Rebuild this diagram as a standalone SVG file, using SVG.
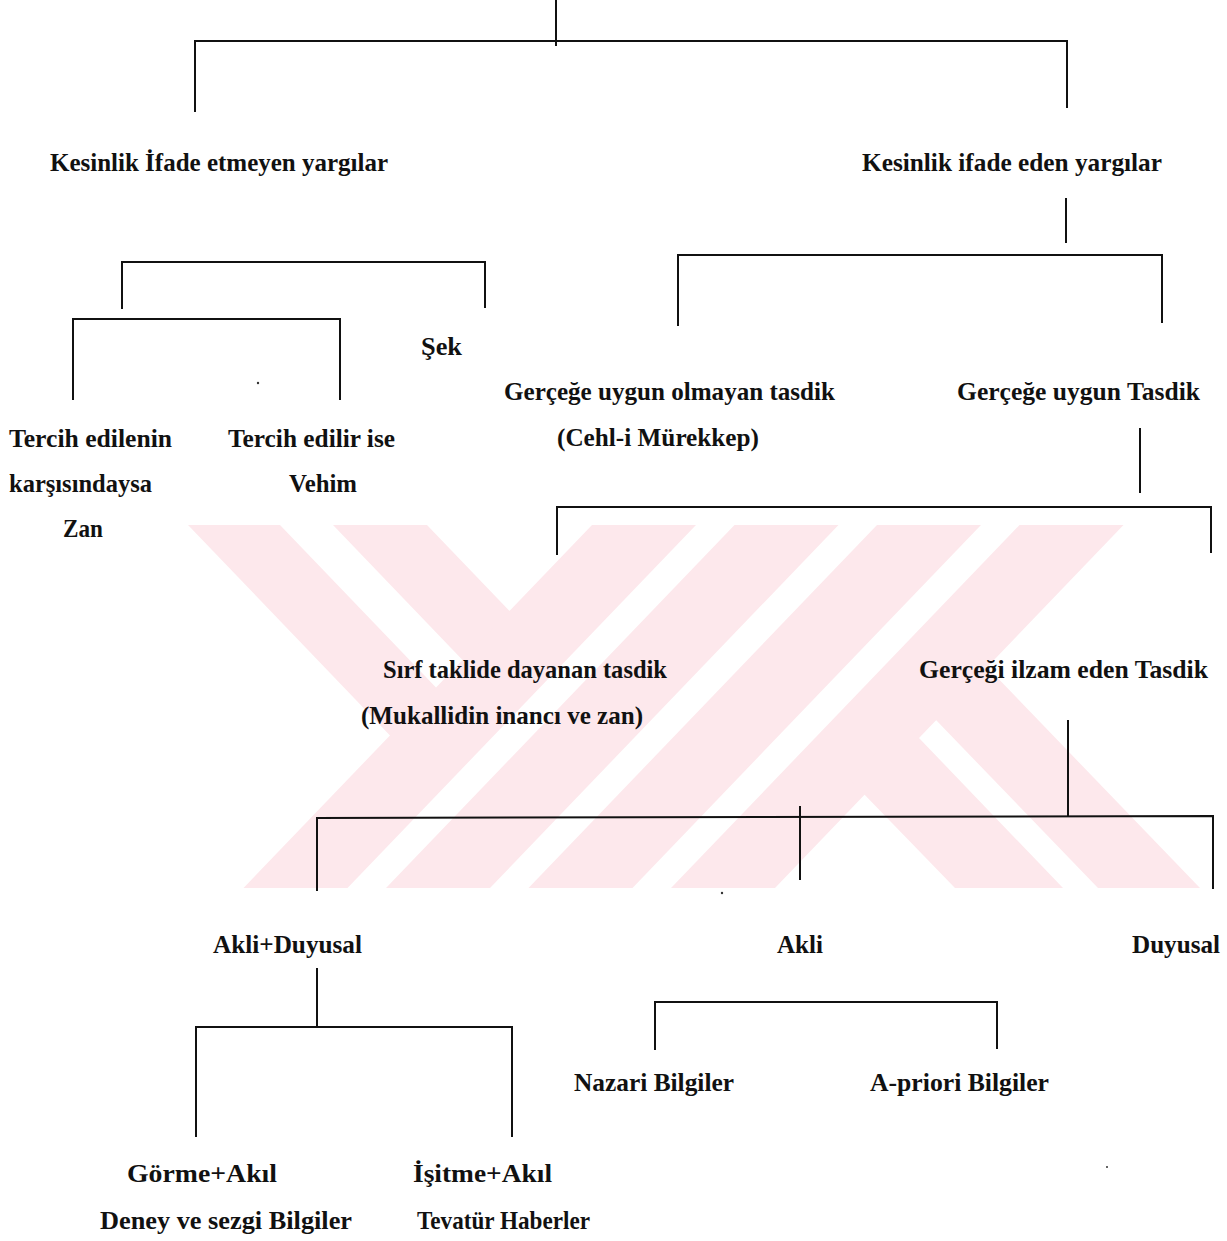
<svg xmlns="http://www.w3.org/2000/svg" width="1227" height="1241" viewBox="0 0 1227 1241">
<style>
.wm{fill:#fde8ec;stroke:none}
.ln{stroke:#111;stroke-width:2;fill:none;stroke-linecap:butt}
.t{font-family:"Liberation Serif","Times New Roman",serif;font-weight:bold;font-size:25px;fill:#111}
.speck{fill:#333}
</style>
<rect width="1227" height="1241" fill="#ffffff"/>
<g id="watermark">
<polygon class="wm" points="188,525 280,525 450.4,702.5 404.4,750.4"/>
<polygon class="wm" points="333,525 427,525 523.9,625.9 476.9,674.9"/>
<polygon class="wm" points="592,525 696,525 347.5,888 243.5,888"/>
<polygon class="wm" points="734.5,525 838.5,525 490,888 386,888"/>
<polygon class="wm" points="877,525 981,525 632.5,888 528.5,888"/>
<polygon class="wm" points="1019.5,525 1123.5,525 775,888 671,888"/>
<polygon class="wm" points="849.6,779.3 904.6,723 1063,888 955,888"/>
<polygon class="wm" points="921.3,704.8 972.6,652 1200,888 1098,888"/>
</g>
<g id="connectors">
<path class="ln" d="M556,0V46"/>
<path class="ln" d="M195,112V41H1067V108"/>
<path class="ln" d="M1066,198V243"/>
<path class="ln" d="M678,326V255H1162V323"/>
<path class="ln" d="M122,309V262H485V308"/>
<path class="ln" d="M73,400V319H340V400"/>
<path class="ln" d="M1140,428V493"/>
<path class="ln" d="M557,555V507H1211V553"/>
<path class="ln" d="M1068,720V817"/>
<path class="ln" d="M317,891V818L1213,816V889"/>
<path class="ln" d="M800,806V880"/>
<path class="ln" d="M317,968V1028"/>
<path class="ln" d="M196,1137V1027H512V1137"/>
<path class="ln" d="M655,1050V1002H997V1049"/>
</g>
<g id="specks">
<circle class="speck" cx="258" cy="383" r="1.2"/>
<circle class="speck" cx="722" cy="893" r="1.2"/>
<circle class="speck" cx="1107" cy="1167" r="1"/>
</g>
<g id="n-kesinlik-ifade-etmeyen"><text class="t" x="50" y="171" textLength="338" lengthAdjust="spacingAndGlyphs">Kesinlik İfade etmeyen yargılar</text></g>
<g id="n-kesinlik-ifade-eden"><text class="t" x="862" y="171" textLength="300" lengthAdjust="spacingAndGlyphs">Kesinlik ifade eden yargılar</text></g>
<g id="n-sek"><text class="t" x="421" y="355" textLength="41" lengthAdjust="spacingAndGlyphs">Şek</text></g>
<g id="n-zan"><text class="t" x="9" y="447" textLength="163" lengthAdjust="spacingAndGlyphs">Tercih edilenin</text><text class="t" x="9" y="492" textLength="143" lengthAdjust="spacingAndGlyphs">karşısındaysa</text><text class="t" x="63" y="537" textLength="40" lengthAdjust="spacingAndGlyphs">Zan</text></g>
<g id="n-vehim"><text class="t" x="228" y="447" textLength="167" lengthAdjust="spacingAndGlyphs">Tercih edilir ise</text><text class="t" x="289" y="492" textLength="68" lengthAdjust="spacingAndGlyphs">Vehim</text></g>
<g id="n-gercege-uygun-olmayan"><text class="t" x="504" y="400" textLength="331" lengthAdjust="spacingAndGlyphs">Gerçeğe uygun olmayan tasdik</text><text class="t" x="557" y="446" textLength="202" lengthAdjust="spacingAndGlyphs">(Cehl-i Mürekkep)</text></g>
<g id="n-gercege-uygun"><text class="t" x="957" y="400" textLength="243" lengthAdjust="spacingAndGlyphs">Gerçeğe uygun Tasdik</text></g>
<g id="n-sirf-taklide"><text class="t" x="383" y="678" textLength="284" lengthAdjust="spacingAndGlyphs">Sırf taklide dayanan tasdik</text><text class="t" x="361" y="724" textLength="282" lengthAdjust="spacingAndGlyphs">(Mukallidin inancı ve zan)</text></g>
<g id="n-gercegi-ilzam"><text class="t" x="919" y="678" textLength="289" lengthAdjust="spacingAndGlyphs">Gerçeği ilzam eden Tasdik</text></g>
<g id="n-akli-duyusal"><text class="t" x="213" y="953" textLength="149" lengthAdjust="spacingAndGlyphs">Akli+Duyusal</text></g>
<g id="n-akli"><text class="t" x="777" y="953" textLength="46" lengthAdjust="spacingAndGlyphs">Akli</text></g>
<g id="n-duyusal"><text class="t" x="1132" y="953" textLength="88" lengthAdjust="spacingAndGlyphs">Duyusal</text></g>
<g id="n-nazari"><text class="t" x="574" y="1091" textLength="160" lengthAdjust="spacingAndGlyphs">Nazari Bilgiler</text></g>
<g id="n-apriori"><text class="t" x="870" y="1091" textLength="179" lengthAdjust="spacingAndGlyphs">A-priori Bilgiler</text></g>
<g id="n-gorme"><text class="t" x="127" y="1182" textLength="150" lengthAdjust="spacingAndGlyphs">Görme+Akıl</text><text class="t" x="100" y="1229" textLength="252" lengthAdjust="spacingAndGlyphs">Deney ve sezgi Bilgiler</text></g>
<g id="n-isitme"><text class="t" x="413" y="1182" textLength="139" lengthAdjust="spacingAndGlyphs">İşitme+Akıl</text><text class="t" x="417" y="1229" textLength="173" lengthAdjust="spacingAndGlyphs">Tevatür Haberler</text></g>
</svg>
